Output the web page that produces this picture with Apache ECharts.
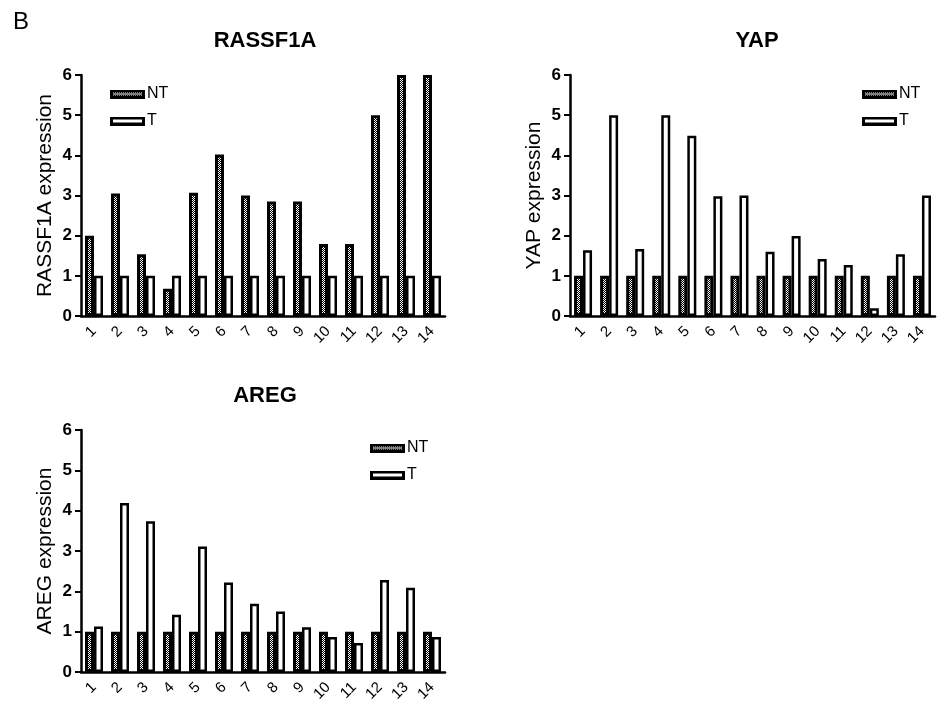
<!DOCTYPE html>
<html>
<head>
<meta charset="utf-8">
<script src="https://cdn.jsdelivr.net/npm/echarts@6/dist/echarts.min.js"></script>
<style>
html,body{margin:0;padding:0;background:#fff;}
#c{width:937px;height:708px;}
</style>
</head>
<body>
<div id="c"></div>
<script>
const categories = ['1','2','3','4','5','6','7','8','9','10','11','12','13','14'];
const yTicks = [0,1,2,3,4,5,6];
const rassfNT = [2.0,3.05,1.54,0.68,3.07,4.02,3.0,2.85,2.85,1.79,1.79,5.0,6.0,6.0];
const rassfT  = [1,1,1,1,1,1,1,1,1,1,1,1,1,1];
const yapNT   = [1,1,1,1,1,1,1,1,1,1,1,1,1,1];
const yapT    = [1.64,5.0,1.67,5.0,4.49,2.98,3.0,1.6,1.99,1.42,1.27,0.19,1.54,3.0];
const aregNT  = [1,1,1,1,1,1,1,1,1,1,1,1,1,1];
const aregT   = [1.13,4.19,3.74,1.42,3.11,2.22,1.69,1.5,1.11,0.87,0.72,2.28,2.09,0.87];

const FONT = '"Liberation Sans", Arial, sans-serif';

// checker pattern for NT bars
const pc = document.createElement('canvas');
pc.width = 2; pc.height = 2;
const pctx = pc.getContext('2d');
pctx.fillStyle = '#000'; pctx.fillRect(0,0,2,2);
pctx.fillStyle = '#fff'; pctx.fillRect(0,0,1,1); pctx.fillRect(1,1,1,1);
const ntFill = {image: pc, repeat: 'repeat'};

// legend icons
function makeIcon(patterned) {
  const c = document.createElement('canvas');
  c.width = 35; c.height = 9;
  const x = c.getContext('2d');
  x.fillStyle = '#000'; x.fillRect(0,0,35,9);
  if (patterned) {
    for (let i = 3; i < 32; i++) for (let j = 3; j < 6; j++) {
      x.fillStyle = ((i + j) % 2 === 0) ? '#fff' : '#000';
      x.fillRect(i, j, 1, 1);
    }
  } else {
    x.fillStyle = '#fff'; x.fillRect(3,3,29,3);
  }
  return 'image://' + c.toDataURL();
}
const iconNT = makeIcon(true);
const iconT = makeIcon(false);

const grids = [
  {left: 81, top: 75, width: 364, height: 241},
  {left: 570, top: 75, width: 365, height: 241},
  {left: 81, top: 430, width: 364, height: 242}
];
const names = ['RASSF1A expression','YAP expression','AREG expression'];
const titles = [
  {text:'RASSF1A', x:260, y:25},
  {text:'YAP', x:752, y:25},
  {text:'AREG', x:260, y:380}
];
const legendPos = [
  {left:110, top:86},
  {left:862, top:86},
  {left:370, top:440}
];
const dataNT = [rassfNT, yapNT, aregNT];
const dataT = [rassfT, yapT, aregT];

const ntStyle = {color:ntFill, borderColor:'#000', borderWidth:3};
const tStyle = {color:'#fff', borderColor:'#000', borderWidth:2.5};

const option = {
  animation: false,
  backgroundColor: '#fff',
  title: [{text:'B', left:8, top:5, textStyle:{fontFamily:FONT, fontSize:24, fontWeight:'normal', color:'#000'}}]
    .concat(titles.map(t => ({text:t.text, left:t.x, top:t.y, textAlign:'center',
      textStyle:{fontFamily:FONT, fontSize:22, fontWeight:'bold', color:'#000'}}))),
  grid: grids,
  legend: legendPos.map(p => ({
    left: p.left, top: p.top, padding:0, orient:'vertical', itemWidth:35, itemHeight:9, itemGap:11,
    data:[{name:'NT', icon:iconNT}, {name:'T', icon:iconT}],
    selectedMode:false,
    textStyle:{fontFamily:FONT, fontSize:16, color:'#000', padding:[0,0,0,-3]}
  })),
  xAxis: grids.map((g,i) => ({
    type:'category', gridIndex:i, data:categories,
    axisLine:{lineStyle:{color:'#000', width:2.5}},
    axisTick:{alignWithLabel:true, length:6, lineStyle:{color:'#000', width:2}},
    axisLabel:{interval:0, rotate:45, margin:13, fontFamily:FONT, fontSize:15, color:'#000'}
  })),
  yAxis: grids.map((g,i) => ({
    type:'value', gridIndex:i, min:0, max:6, interval:1,
    name: names[i], nameLocation:'middle', nameGap:25,
    nameTextStyle:{fontFamily:FONT, fontSize:21, color:'#000'},
    splitLine:{show:false},
    axisLine:{show:true, lineStyle:{color:'#000', width:2.5}},
    axisTick:{show:true, length:6, lineStyle:{color:'#000', width:2}},
    axisLabel:{fontFamily:FONT, fontSize:17, fontWeight:'bold', color:'#000', margin:9,
      formatter: v => yTicks.indexOf(v) >= 0 ? String(v) : ''}
  })),
  series: [0,1,2].flatMap(i => [
    {name:'NT', type:'bar', xAxisIndex:i, yAxisIndex:i, data:dataNT[i], barWidth:9, barGap:'0%',
      itemStyle:ntStyle},
    {name:'T', type:'bar', xAxisIndex:i, yAxisIndex:i, data:dataT[i], barWidth:9, barGap:'0%',
      itemStyle:tStyle}
  ])
};

const chart = echarts.init(document.getElementById('c'), null, {renderer:'canvas'});
chart.setOption(option);
</script>
</body>
</html>
